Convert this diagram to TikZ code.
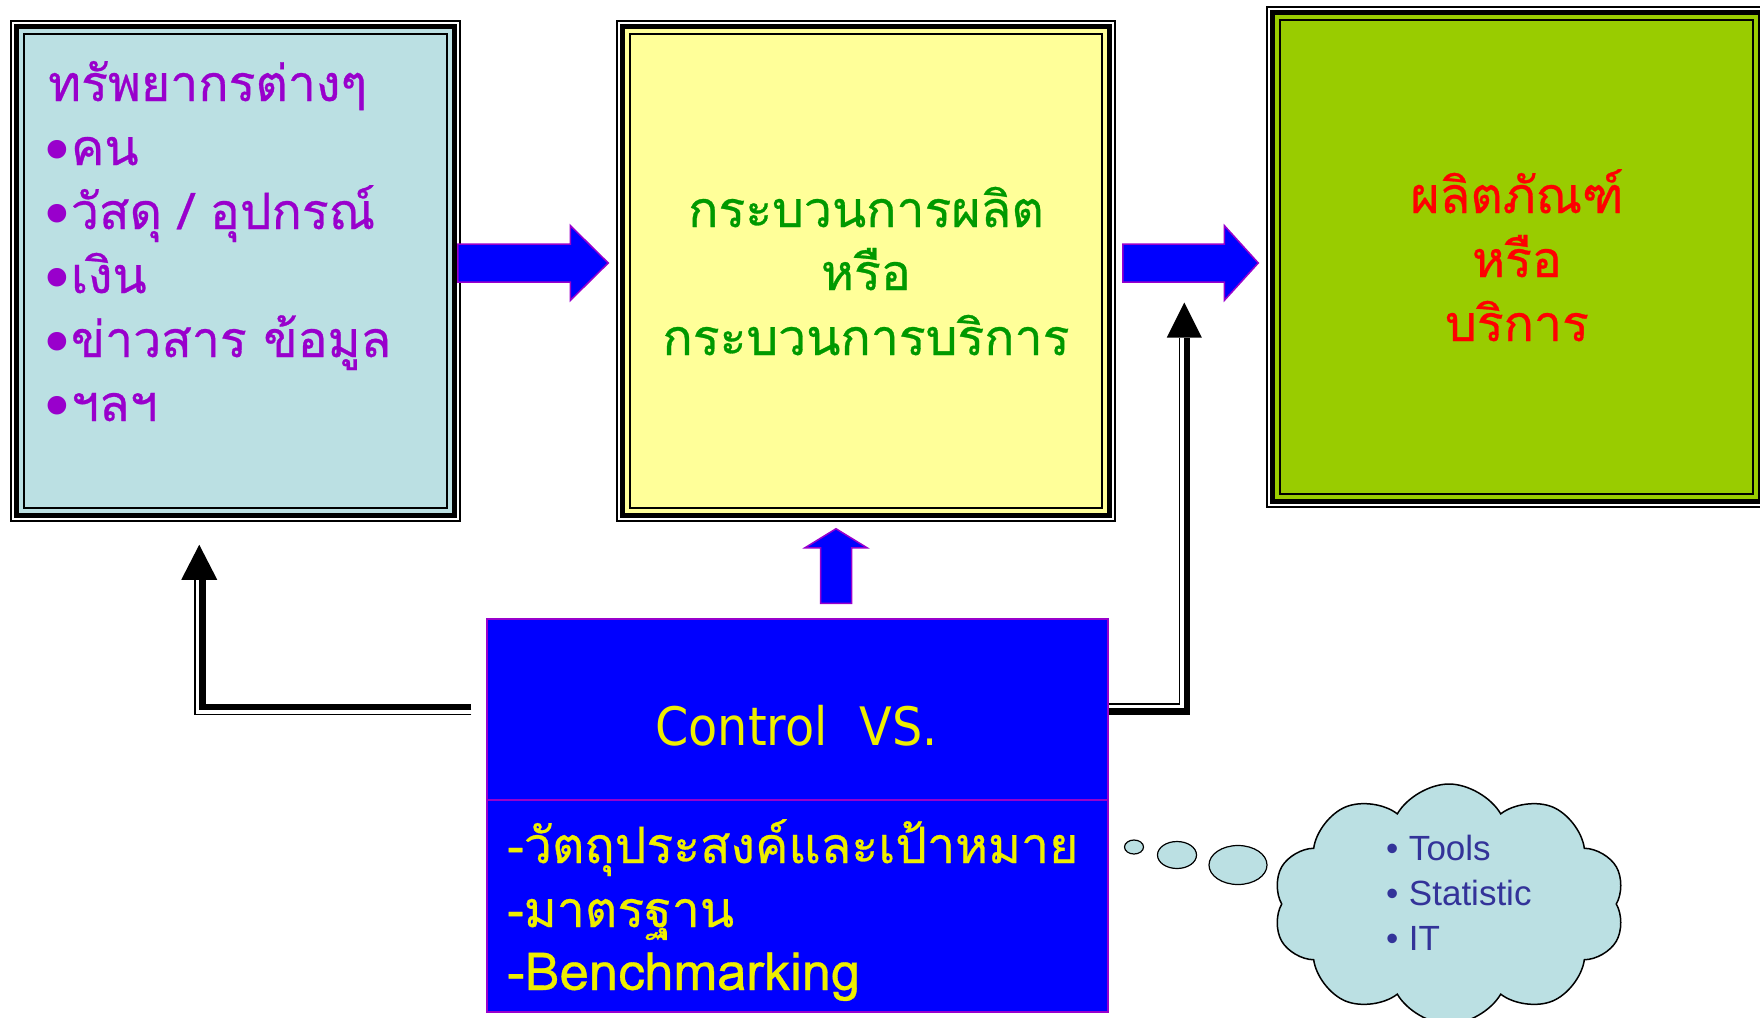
\documentclass[tikz,border=0pt]{standalone}
\usepackage{fontspec}
\usetikzlibrary{calc,shapes.symbols,shapes.geometric}
\newfontfamily\thai[Script=Thai, FakeBold=0.6]{Loma}
\newfontfamily\dvc{DejaVu Sans Condensed}
\newfontfamily\dvs{DejaVu Sans}
\newfontfamily\lib{Liberation Sans}
\definecolor{lcyan}{HTML}{BBE0E3}
\definecolor{lyel}{HTML}{FFFF99}
\definecolor{lgrn}{HTML}{99CC00}
\definecolor{tpurp}{HTML}{9900CC}
\definecolor{tgrn}{HTML}{009900}
\definecolor{tred}{HTML}{FF0000}
\definecolor{tyel}{HTML}{EEEE00}
\definecolor{bblue}{HTML}{0000FF}
\definecolor{cloudtxt}{HTML}{333399}
\newcommand\frameit[2]{%
  \fill[#2] ($(#1.north west)+(4,4)$) rectangle ($(#1.south east)+(-4,-4)$);
  \draw[line width=5pt] ($(#1.north west)+(6.5,6.5)$) rectangle ($(#1.south east)+(-6.5,-6.5)$);
  \draw[line width=2pt] ($(#1.north west)+(14,14)$) rectangle ($(#1.south east)+(-14,-14)$);
}
\newcommand\harrow[3]{%
  \draw[barrow] let \p1=(#1), \p2=(#2) in
   (\x1,\y1+19pt) -- (\x2-#3pt,\y1+19pt) -- (\x2-#3pt,\y1+37.5pt) -- (\x2,\y2)
   -- (\x2-#3pt,\y1-37.5pt) -- (\x2-#3pt,\y1-19pt) -- (\x1,\y1-19pt) -- cycle;}
\newcommand\varrow[2]{%
  \draw[barrow] let \p1=(#1), \p2=(#2) in
   (\x1-15.5pt,\y1) -- (\x1-15.5pt,\y2-19pt) -- (\x1-31pt,\y2-19pt) -- (\x2,\y2)
   -- (\x1+31pt,\y2-19pt) -- (\x1+15.5pt,\y2-19pt) -- (\x1+15.5pt,\y1) -- cycle;}
\newcommand\bul{\hspace*{-10pt}\smash{\dvs\fontsize{64}{64}\selectfont\raisebox{-8pt}{•}}\hspace*{-5pt}}
\newcommand\tightlines{\lineskiplimit=-100pt\relax}
\begin{document}
\begin{tikzpicture}[x=1pt,y=-1pt,
  boxframe/.style={draw, line width=1.5pt, inner sep=0pt},
  barrow/.style={fill=bblue, draw=tpurp, line width=1.5pt, line join=miter},
  thaitxt/.style={inner sep=0pt, font=\thai\fontsize{50}{50}\selectfont},
  cloudtext/.style={inner sep=0pt, anchor=base west, text=cloudtxt, font=\lib\fontsize{35}{35}\selectfont},
  bubble/.style={ellipse, draw, line width=1.2pt, fill=lcyan, inner sep=0pt}]
\useasboundingbox (0,0) rectangle (1760,1017);

% boxes
\node[boxframe, minimum width=449pt, minimum height=500pt] (L) at (235.5,271) {};
\frameit{L}{lcyan}
\node[boxframe, minimum width=498pt, minimum height=500pt] (M) at (866,271) {};
\frameit{M}{lyel}
\node[boxframe, minimum width=499pt, minimum height=500pt] (R) at (1516.5,257) {};
\frameit{R}{lgrn}

% left box text (one block, 64pt line pitch)
\node[inner sep=0pt, anchor=base west, text=tpurp, text width=400pt, align=left,
      font=\thai\fontsize{50}{64}\selectfont] (ltxt) at (48,101)
 {\tightlines ทรัพยากรต่างๆ\\
  \bul คน\\
  \bul วัสดุ / อุปกรณ์\\
  \bul เงิน\\
  \bul ข่าวสาร ข้อมูล\\
  \bul ฯลฯ};

% middle box text
\node[thaitxt, anchor=base, text=tgrn] (m1) at (866,227) {กระบวนการผลิต};
\node[thaitxt, anchor=base, text=tgrn] (m2) at (866,290) {หรือ};
\node[thaitxt, anchor=base, text=tgrn] (m3) at (866,355) {กระบวนการบริการ};

% right box text
\node[thaitxt, anchor=base, text=tred] (r1) at (1517,213) {ผลิตภัณฑ์};
\node[thaitxt, anchor=base, text=tred] (r2) at (1517,277) {หรือ};
\node[thaitxt, anchor=base, text=tred] (r3) at (1517,341) {บริการ};

% control box
\node[draw=tpurp, fill=bblue, line width=1.5pt, minimum width=621pt, minimum height=393pt, inner sep=0pt] (Ctrl) at (797.5,815.5) {};
\coordinate (dv) at (0,800);
\draw[tpurp, line width=1.5pt] (Ctrl.west |- dv) -- (Ctrl.east |- dv);
\node[inner sep=0pt, anchor=base, text=tyel, font=\dvc\fontsize{53}{53}\selectfont] (ct) at (796.5,745) {Control\hspace{0.6em}VS.};
\node[thaitxt, anchor=base west, text=tyel] (c1) at (507,863) {-วัตถุประสงค์และเป้าหมาย};
\node[thaitxt, anchor=base west, text=tyel] (c2) at (507,927) {-มาตรฐาน};
\node[inner sep=0pt, anchor=base west, text=tyel, font=\thai\fontsize{52.5}{52.5}\selectfont] (c3) at (507,990) {-Benchmarking};

% block arrows
\coordinate (a1s) at ($(L.east)+(-3,-8)$);
\coordinate (a1t) at ($(a1s -| M.west)+(-8,0)$);
\harrow{a1s}{a1t}{38}
\coordinate (a2s) at ($(a1s -| M.east)+(7,0)$);
\coordinate (a2t) at ($(a1s -| R.west)+(-8,0)$);
\harrow{a2s}{a2t}{34}
\coordinate (a3s) at ($(Ctrl.north)+(38.5,-15)$);
\coordinate (a3t) at ($(a3s |- M.south)+(0,7)$);
\varrow{a3s}{a3t}

% left feedback connector
\coordinate (cLs) at ($(Ctrl.west)+(-15,-105.5)$);
\coordinate (tipL) at ($(L.south west)+(189,23)$);
\draw[line width=6.5pt, line join=miter] ($(cLs)+(0,-3)$) -| ($(tipL)+(3,35)$);
\draw[line width=1.5pt, line join=miter] ($(cLs)+(0,4.5)$) -| ($(tipL)+(-4.5,35)$);
\fill (tipL) -- ++(-18,35) -- ++(36,0) -- cycle;

% right feedback connector
\coordinate (cRs) at ($(Ctrl.east)+(0,-107)$);
\coordinate (tipR) at ($(a2s)+(61.5,39.5)$);
\draw[line width=6.5pt, line join=miter] ($(cRs)+(0,3)$) -| ($(tipR)+(2.5,35)$);
\draw[line width=1.5pt, line join=miter] ($(cRs)+(0,-4.5)$) -| ($(tipR)+(-5,35)$);
\fill (tipR) -- ++(-17.5,35) -- ++(35,0) -- cycle;

% thought cloud
\node[cloud, cloud puffs=10, cloud puff arc=120, draw, line width=1.5pt, fill=lcyan, minimum width=352pt, minimum height=240pt, inner sep=0pt] (Cl) at (1449,904) {};
\node[bubble, minimum width=19pt, minimum height=14pt] (b1) at (1134,847) {};
\node[bubble, minimum width=39pt, minimum height=27pt] (b2) at (1177,855) {};
\node[bubble, minimum width=58pt, minimum height=39pt] (b3) at (1238,865) {};
\node[cloudtext] (t1) at (1386,860) {•\hspace{0.3em}Tools};
\node[cloudtext] (t2) at (1386,905) {•\hspace{0.3em}Statistic};
\node[cloudtext] (t3) at (1386,950) {•\hspace{0.3em}IT};
\end{tikzpicture}
\end{document}
